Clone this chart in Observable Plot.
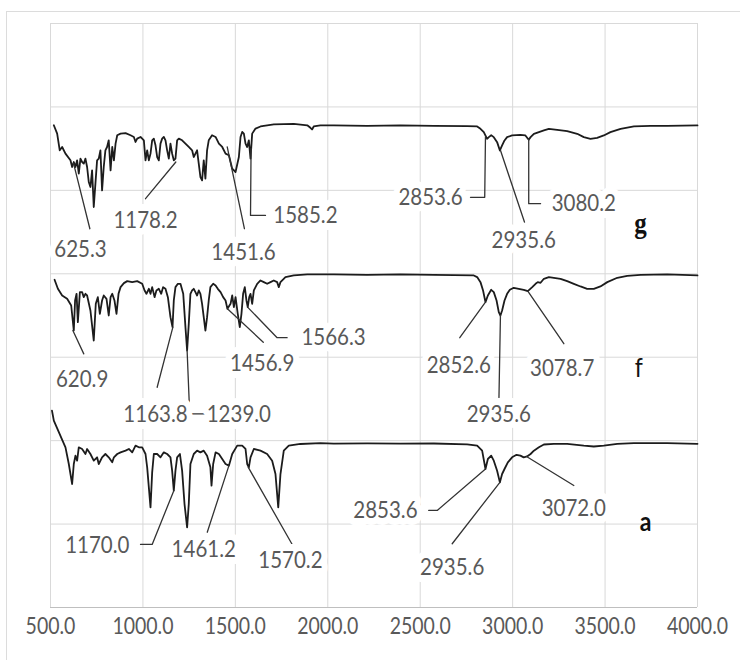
<!DOCTYPE html>
<html><head><meta charset="utf-8">
<script src="https://cdn.jsdelivr.net/npm/d3@7"></script>
<script src="https://cdn.jsdelivr.net/npm/@observablehq/plot@0.6"></script>
<style>
html,body{margin:0;padding:0;background:#fff;}
#wrap{position:relative;width:740px;height:660px;overflow:hidden;}
#frame{position:absolute;left:6px;top:11px;width:800px;height:700px;border-left:1px solid #dcdcdc;border-top:1px solid #dcdcdc;pointer-events:none;z-index:2;}
</style></head><body><div id="wrap"></div>
<script>
// ---- spectra (wavenumber, cm-1 ; offset transmittance) ----
const gWn = [518,536,550,563,581,608,617,626,635,644,653,662,671,680,689,698,707,716,725,734,743,752,761,770,779,788,797,806,815,825,834,843,852,861,879,906,933,951,960,969,987,1005,1014,1023,1032,1041,1050,1059,1068,1077,1086,1095,1104,1113,1122,1131,1140,1149,1158,1167,1176,1185,1194,1212,1230,1248,1266,1275,1284,1293,1302,1311,1320,1329,1338,1347,1356,1374,1393,1411,1429,1447,1465,1483,1501,1519,1528,1537,1546,1555,1564,1573,1582,1591,1609,1636,1708,1816,1889,1906,1915,1924,1960,2033,2213,2393,2574,2754,2808,2826,2844,2862,2871,2884,2898,2916,2931,2943,2956,2970,2997,3042,3069,3087,3097,3115,3142,3169,3196,3241,3295,3349,3385,3421,3457,3493,3529,3584,3656,3746,3836,4000];
const gT = [289,284,274,276,272,268,264,267,264,268,260,269,267,266,269,264,255,252,262,240,254,268,269,274,250,264,274,276,280,262,276,268,278,283,284,284.3,283,282,279,281,282,280,268,274,268,272,280,281,277,270,268,278,281,282,280,274,269,278,272,268,269,280,281,280,278,276,274,270,272,274,266,258,256,268,257,274,280,283,282,278,276,272,271,263,261,270,282,285,284,278,276,280,269,284,287,288.3,289.5,289.9,289,287.5,286.5,288.3,288.9,289,288.7,289,288.7,288.5,288.3,286.9,284.9,280.9,281.9,283,281.9,278.9,273.9,276.9,279.9,281.9,282.9,283.3,282.9,280.3,281.9,283.9,284.9,285.9,286.9,286.3,285.5,283.9,281.9,280.9,281.5,282.9,284.9,286.9,288.3,288.7,288.7,288.9];

const fWn = [522,540,563,590,612,626,633,641,648,659,671,680,689,698,716,734,745,756,767,779,788,803,815,825,834,846,857,868,879,897,915,942,969,996,1009,1019,1032,1041,1050,1063,1073,1086,1099,1109,1122,1135,1149,1160,1167,1176,1189,1203,1218,1230,1239,1248,1257,1266,1275,1284,1293,1302,1311,1320,1329,1338,1347,1356,1365,1380,1393,1405,1420,1434,1447,1457,1474,1483,1492,1501,1513,1524,1533,1542,1551,1560,1567,1575,1582,1591,1600,1618,1636,1654,1672,1690,1708,1726,1735,1744,1771,1816,1889,1960,2033,2213,2393,2574,2790,2808,2826,2840,2853,2866,2884,2898,2913,2925,2934,2943,2956,2970,2985,3006,3033,3060,3082,3106,3124,3136,3151,3169,3196,3223,3259,3295,3331,3367,3403,3439,3475,3512,3566,3620,3692,3836,4000];
const fT = [196.4,191,187,185,181,166,184,188,171,189,189,186,188,187,178,160,182,186,176,184,187,185,175,186,188,184,176,188,192,194.4,195.6,195,195.6,194,190,188,191,188,192,186,190,191,188,192,191,186,174,168,184,192,194,194,188,168,154,170,188,190,191,189,187,190,188,182,174,166,174,184,192,194,193,191,189,186,184,179,182,187,180,186,176,168,176,188,192,184,180,186,188,182,190,194,196,195,194,195,196,195,192,195,198,199,199.6,199.6,199.6,199.4,199.6,199.3,199.0,198.0,195.0,190.0,183.0,187.0,190.4,189.0,184.0,177.0,175.0,178.0,184.0,188.0,190.4,191.6,191.0,190.4,189.6,192.0,194.0,195.0,194.6,197.0,198.0,197.6,197.0,195.6,194.0,192.4,191.0,191.0,192.4,195.0,197.6,198.8,199.4,199.6,199.0];

const aWn = [508,518,581,599,617,626,635,644,653,671,689,698,716,734,752,761,779,797,815,834,843,861,879,906,924,942,960,978,996,1014,1023,1032,1041,1050,1059,1077,1095,1113,1131,1149,1158,1167,1176,1185,1200,1212,1225,1239,1248,1257,1275,1293,1311,1329,1347,1365,1371,1380,1393,1411,1429,1447,1465,1483,1510,1537,1555,1564,1573,1582,1600,1636,1672,1699,1717,1732,1744,1762,1789,1852,1960,2033,2213,2393,2574,2754,2808,2835,2853,2866,2884,2898,2916,2931,2943,2956,2974,2997,3021,3042,3060,3078,3097,3115,3142,3169,3223,3295,3385,3439,3493,3566,3656,3836,4000];
const aT = [118,112,96,86,74,86,91,88,96,95,92,95,92,88,90,86,90,92,90,87,90,92,93,94,95,93,97,96,96,92,84,72,60,81,92,92,90,93,92,90,82,70,82,90,92,82,62,48,62,86,92,94,93,94,91,84,73,86,93,92,89,86,85,92,97,97,95,86,84,90,95,94,92,88,80,60,80,94,97,98,98.5,98.2,98.4,98.2,98.3,97.8,97,94,83,89,91,88,82,75,80,83,87,90,91.5,91,90,90.5,92,94,96,97.7,98.1,98.1,97,96.5,97,98.1,98.5,98.5,98.1];

// ---- peak labels and their leader lines (data units) ----
const peakText = ["625.3","1178.2","1451.6","1585.2","2853.6","2935.6","3080.2",
                  "620.9","1163.8","1239.0","1456.9","1566.3","2852.6","2935.6","3078.7",
                  "1170.0","1461.2","1570.2","2853.6","2935.6","3072.0"];
const peakLabelWn = [662,1014,1544,1879,2556,3060,3385,
                     671,1068,1519,1645,2031,2709,2925,3268,
                     753,1329,1798,2312,2673,3331];
const peakLabelT = [214.6,232,212.8,235,245.8,220,242,
                    137.1,116.1,116.1,146.1,161.7,145.1,116.1,143.1,
                    37.5,35.2,28.2,58.2,24.2,59.2];
const leaderPaths = [
  [[625,266],[713,227]],
  [[1178,267],[1014,245]],
  [[1456,276],[1549,227]],
  [[1585,275],[1582,235],[1663,235]],
  [[2853,282],[2849,245.8],[2772,245.8]],
  [[2934,274],[3064,231]],
  [[3087,280.4],[3087,242],[3151,242]],
  [[621,166],[680,152]],
  [[1162,168],[1077,132]],
  [[1239,154],[1253,116.1],[1338,116.1]],
  [[1457,179],[1651,159]],
  [[1566,180],[1726,161.7],[1780,161.7]],
  [[2853,183],[2714,161.7]],
  [[2934,175],[2926,125.9]],
  [[3082,189.6],[3277,158.1]],
  [[1167,70],[1050,37.8],[987,37.8]],
  [[1465,85],[1348,45.1]],
  [[1570,84],[1816,36.1]],
  [[2853,83],[2592,58.2],[2546,58.2]],
  [[2931,75],[2673,38.2]],
  [[3075,90.5],[3331,73.1]]
];

const seriesNames = ["g","f","a"];
const seriesLabelWn = [3692,3682,3719];
const seriesLabelT = [230,143.1,51.1];

const xTicks = [500,1000,1500,2000,2500,3000,3500,4000];
const yGrid = [50,100,150,200,250,300,350];

// ---- build tables ----
const traces = [{id:"g",wn:gWn,t:gT},{id:"f",wn:fWn,t:fT},{id:"a",wn:aWn,t:aT}];
const traceRows = traces.flatMap(s => s.wn.slice(0, Math.min(s.wn.length, s.t.length)).map((w,i)=>({id:s.id, wn:w, t:s.t[i]})));
const leaderRows = leaderPaths.flatMap((p,k)=>p.map(([w,t])=>({k, wn:w, t})));
const labelRows = peakText.map((s,i)=>({s, wn:peakLabelWn[i], t:peakLabelT[i]}));
const letterRows = seriesNames.map((s,i)=>({s, wn:seriesLabelWn[i], t:seriesLabelT[i]}));

const font = "Lato, 'Open Sans', sans-serif";
const chart = Plot.plot({
  width:740, height:660,
  marginLeft:50, marginRight:43, marginTop:23, marginBottom:53,
  x:{domain:[500,4000], axis:null},
  y:{domain:[0,350], axis:null},
  style:{background:"transparent", fontFamily:font},
  marks:[
    Plot.ruleX(xTicks, {stroke:"#d9d9d9", strokeWidth:1}),
    Plot.ruleY(yGrid, {stroke:"#d9d9d9", strokeWidth:1}),
    Plot.ruleY([0], {stroke:"#bfbfbf", strokeWidth:1}),
    Plot.line(traceRows, {x:"wn", y:"t", z:"id", stroke:"#1c1c1c", strokeWidth:1.8, strokeLinejoin:"round"}),
    Plot.line(leaderRows, {x:"wn", y:"t", z:"k", stroke:"#333", strokeWidth:1.3}),
    Plot.text(labelRows, {x:"wn", y:"t", text:"s", fill:"#595959", stroke:"white", strokeWidth:12, strokeLinejoin:"round", paintOrder:"stroke", fontSize:20.5, fontFamily:font}),
    Plot.text(letterRows.filter(d=>d.s==="g"), {x:"wn", y:"t", text:"s", fill:"#111", fontSize:25, fontWeight:"bold", fontFamily:"'Liberation Serif', serif"}),
    Plot.text(letterRows.filter(d=>d.s==="f"), {x:"wn", y:"t", text:"s", fill:"#111", fontSize:23, fontFamily:font}),
    Plot.text(letterRows.filter(d=>d.s==="a"), {x:"wn", y:"t", text:"s", fill:"#111", fontSize:23, fontWeight:"bold", fontFamily:font}),
    Plot.text(xTicks, {x:d=>d, frameAnchor:"bottom", dy:25, text:d=>d.toFixed(1), fill:"#595959", fontSize:19.5, fontFamily:font})
  ]
});
const wrap = document.getElementById("wrap");
wrap.appendChild(chart);
const fr = document.createElement("div"); fr.id = "frame"; wrap.appendChild(fr);
// stretch texts vertically like the reference
chart.querySelectorAll("text").forEach(t => {
  const b = t.getBBox();
  const cx = b.x + b.width/2, cy = b.y + b.height/2;
  const tr = t.getAttribute("transform") || "";
  t.setAttribute("transform", `${tr} translate(${cx},${cy}) scale(1,1.15) translate(${-cx},${-cy})`);
});
</script></body></html>
